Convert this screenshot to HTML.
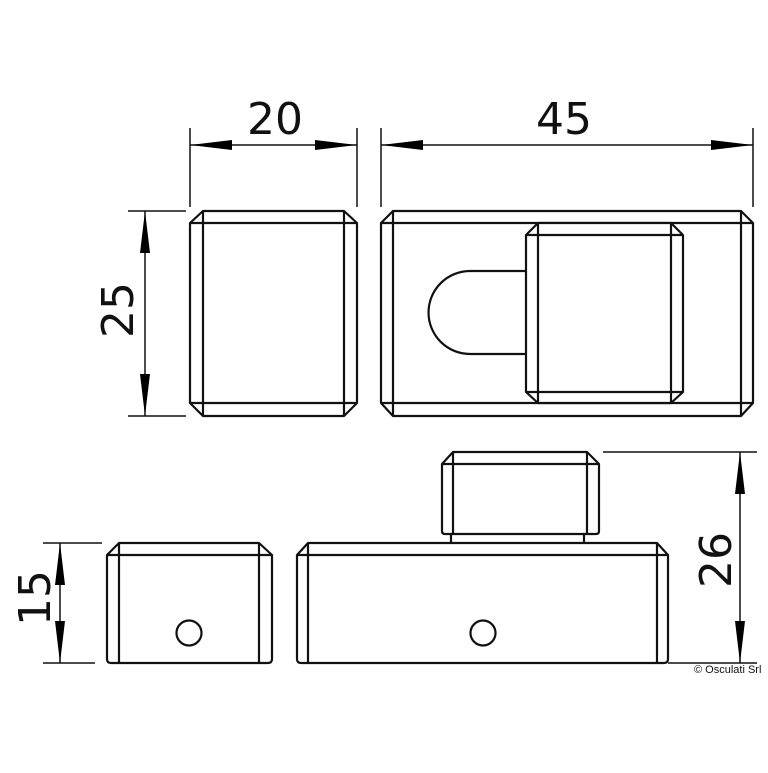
<!DOCTYPE html>
<html><head><style>html,body{margin:0;padding:0;background:#fff;}</style></head>
<body>
<svg width="768" height="768" viewBox="0 0 768 768" xmlns="http://www.w3.org/2000/svg">
<defs>
<marker id="a" viewBox="0 0 42 10" refX="42" refY="5" markerWidth="42" markerHeight="10" markerUnits="userSpaceOnUse" orient="auto-start-reverse">
<path d="M0,0 L42,5 L0,10 Z" fill="#000"/>
</marker>
</defs>
<g fill="none" stroke="#111" stroke-width="2.2" stroke-linejoin="round">
<path d="M203,211 H344 L357,223 V403 L344,416 H203 L190,403 V223 Z"/>
<path d="M190,223 H357 M190,403 H357 M203,211 V416 M344,211 V416"/>
<path d="M393,211 H741 L753,223 V403 L741,416 H393 L381,403 V223 Z"/>
<path d="M381,223 H753 M381,403 H753 M393,211 V416 M741,211 V416"/>
<path d="M526,271 H470 A41.5,41.5 0 0 0 470,354 H526"/>
<path d="M538,223 H671 L683,235 V392 L671,403 H538 L526,392 V235 Z" fill="#fff"/>
<path d="M526,235 H683 M526,392 H683 M538,223 V403 M671,223 V403"/>
<path d="M119,543 H259 L272,555 V659 Q272,663 268,663 H111 Q107,663 107,659 V555 Z"/>
<path d="M107,555 H272 M119,543 V663 M259,543 V663"/>
<circle cx="189" cy="633" r="12.5"/>
<path d="M308,543 H657 L668,555 V659 Q668,663 664,663 H301 Q297,663 297,659 V555 Z"/>
<path d="M297,555 H668 M308,543 V663 M657,543 V663"/>
<circle cx="483" cy="633" r="12.5"/>
<path d="M453,452 H587 L599,464 V531 Q599,534 596,534 H445 Q442,534 442,531 V464 Z"/>
<path d="M442,464 H599 M453,452 V534 M587,452 V534 M451,534 V543 M584,534 V543"/>
</g>
<g stroke="#111" stroke-width="1.5" fill="none">
<path d="M190,128 V207 M357,128 V207"/>
<line x1="273" y1="145" x2="190" y2="145" marker-end="url(#a)"/>
<line x1="273" y1="145" x2="357" y2="145" marker-end="url(#a)"/>
<path d="M381,128 V207 M753,128 V207"/>
<line x1="567" y1="145" x2="381" y2="145" marker-end="url(#a)"/>
<line x1="567" y1="145" x2="753" y2="145" marker-end="url(#a)"/>
<path d="M128,211 H186 M128,416 H186"/>
<line x1="145" y1="313" x2="145" y2="211" marker-end="url(#a)"/>
<line x1="145" y1="313" x2="145" y2="416" marker-end="url(#a)"/>
<path d="M43,543 H102 M43,663 H95"/>
<line x1="60" y1="603" x2="60" y2="543" marker-end="url(#a)"/>
<line x1="60" y1="603" x2="60" y2="663" marker-end="url(#a)"/>
<path d="M603,452 H757 M668,663 H757"/>
<line x1="740" y1="557" x2="740" y2="452" marker-end="url(#a)"/>
<line x1="740" y1="557" x2="740" y2="663" marker-end="url(#a)"/>
</g>
<g font-family="'DejaVu Sans','Liberation Sans',sans-serif" font-size="44" fill="#111" text-anchor="middle">
<text x="275" y="134">20</text>
<text x="564" y="134">45</text>
<text transform="translate(133,310) rotate(-90)">25</text>
<text transform="translate(50,598) rotate(-90)">15</text>
<text transform="translate(731,560) rotate(-90)">26</text>
</g>
<text x="694" y="673" font-family="'Liberation Sans',sans-serif" font-size="11" fill="#111">© Osculati Srl</text>
</svg>
</body></html>
